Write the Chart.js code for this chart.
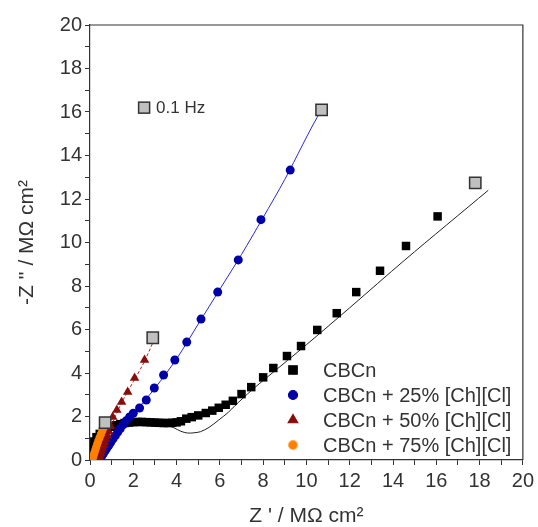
<!DOCTYPE html>
<html>
<head>
<meta charset="utf-8">
<script src="https://cdn.jsdelivr.net/npm/chart.js@4.4.0/dist/chart.umd.min.js"></script>
<style>
  html, body { margin: 0; padding: 0; background: #fff; }
  #wrap { width: 538px; height: 527px; }
</style>
</head>
<body>
<div id="wrap"><canvas id="nyquist"></canvas></div>
<script>
// Datos (Z' y -Z'' en MOhm cm2)
const cbcnRe = [0.05, 0.1, 0.2, 0.3, 0.45, 0.6, 0.8, 1.0, 1.2, 1.4, 1.6, 1.8, 2.0, 2.2, 2.4, 2.6, 2.8, 3.0, 3.2, 3.4, 3.6, 3.8, 4.0, 4.2, 4.45, 4.7, 5.0, 5.35, 5.65, 5.95, 6.27, 6.6, 7.0, 7.45, 8.0, 8.47, 9.1, 9.75, 10.5, 11.4, 12.3, 13.4, 14.6, 16.06];
const cbcnIm = [0.3, 0.6, 0.85, 1.05, 1.2, 1.33, 1.45, 1.53, 1.6, 1.65, 1.7, 1.72, 1.74, 1.75, 1.75, 1.74, 1.73, 1.72, 1.71, 1.7, 1.7, 1.71, 1.73, 1.78, 1.9, 1.97, 2.05, 2.16, 2.27, 2.4, 2.54, 2.72, 3.03, 3.35, 3.8, 4.23, 4.78, 5.24, 5.98, 6.75, 7.72, 8.7, 9.84, 11.2];
const cbcnFitRe = [0.0, 0.05, 0.15, 0.3, 0.5, 0.8, 1.2, 1.6, 2.0, 2.5, 3.0, 3.5, 3.9, 4.2, 4.5, 4.8, 5.1, 5.5, 5.95, 6.4, 6.7, 7.46, 8.24, 10, 12, 14.55, 18.4];
const cbcnFitIm = [0.0, 0.4, 0.75, 1.0, 1.2, 1.4, 1.55, 1.65, 1.7, 1.72, 1.7, 1.62, 1.47, 1.32, 1.24, 1.25, 1.3, 1.5, 1.84, 2.2, 2.5, 3.2, 3.85, 5.3, 7.0, 9.2, 12.4];

const ch25Re = [0.45, 0.5, 0.55, 0.62, 0.7, 0.78, 0.87, 0.96, 1.06, 1.17, 1.28, 1.4, 1.53, 1.67, 1.83, 2.0, 2.29, 2.6, 2.97, 3.4, 3.92, 4.47, 5.13, 5.9, 6.85, 7.9, 9.25];
const ch25Im = [0.0, 0.1, 0.2, 0.3, 0.42, 0.55, 0.68, 0.82, 0.97, 1.12, 1.28, 1.45, 1.62, 1.8, 1.98, 2.15, 2.39, 2.76, 3.31, 3.91, 4.6, 5.42, 6.48, 7.72, 9.2, 11.05, 13.33];
const ch25FitRe = [0.4, 1.0, 2.0, 3.0, 4.0, 5.0, 6.0, 7.0, 8.0, 9.0, 10.7, 11.0];
const ch25FitIm = [0.0, 0.85, 2.1, 3.3, 4.65, 6.25, 7.85, 9.45, 11.15, 12.9, 16.1, 16.14];

const ch50Re = [0.4, 0.43, 0.46, 0.5, 0.54, 0.58, 0.63, 0.68, 0.74, 0.8, 0.87, 0.95, 1.05, 1.24, 1.46, 1.74, 2.06, 2.52];
const ch50Im = [0.0, 0.1, 0.2, 0.3, 0.42, 0.55, 0.68, 0.82, 0.97, 1.12, 1.3, 1.55, 1.98, 2.3, 2.67, 3.13, 3.77, 4.6];
const ch50FitRe = [0.38, 0.6, 0.8, 1.0, 1.3, 1.6, 2.0, 2.5, 2.95];
const ch50FitIm = [0.0, 0.6, 1.1, 1.6, 2.3, 2.9, 3.6, 4.5, 5.5];

const ch75Re = [0.1, 0.13, 0.16, 0.2, 0.24, 0.28, 0.33, 0.38, 0.44, 0.5, 0.56, 0.62];
const ch75Im = [0.0, 0.1, 0.2, 0.32, 0.45, 0.58, 0.72, 0.87, 1.02, 1.17, 1.32, 1.47];
const ch75FitRe = [0.08, 0.2, 0.35, 0.5, 0.7];
const ch75FitIm = [0.0, 0.33, 0.8, 1.22, 1.72];

// Puntos a 0.1 Hz
const hzRe = [17.8, 10.7, 2.9, 0.7];
const hzIm = [12.74, 16.1, 5.62, 1.72];

const seriesLabels = ['CBCn', 'CBCn + 25% [Ch][Cl]', 'CBCn + 50% [Ch][Cl]', 'CBCn + 75% [Ch][Cl]'];
const xTickLabels = ['0', '2', '4', '6', '8', '10', '12', '14', '16', '18', '20'];
const yTickLabels = ['0', '2', '4', '6', '8', '10', '12', '14', '16', '18', '20'];

const colors = {
    cbcn: '#000000',
    ch25: '#0000a8',
    ch50: '#8b0a0a',
    ch75: '#ff8000',
    hz: '#c0c0c0',
    text: '#333333'
};

const toPoints = (xs, ys) => xs.map((x, i) => ({ x: x, y: ys[i] }));

const FONT = '"Liberation Sans", Arial, sans-serif';

// Borde superior y derecho + leyenda + nota 0.1 Hz
const framePlugin = {
    id: 'frame',
    afterDraw(chart) {
        const { ctx, chartArea: a, scales } = chart;
        ctx.save();
        ctx.strokeStyle = colors.text;
        ctx.lineWidth = 1.2;
        ctx.beginPath();
        ctx.moveTo(a.left, a.top);
        ctx.lineTo(a.right, a.top);
        ctx.lineTo(a.right, a.bottom);
        ctx.stroke();

        // leyenda
        const items = [
            { style: 'rect', r: 6, fill: colors.cbcn, stroke: colors.cbcn },
            { style: 'circle', r: 4.5, fill: colors.ch25, stroke: colors.ch25 },
            { style: 'triangle', r: 5.5, fill: colors.ch50, stroke: colors.ch50 },
            { style: 'circle', r: 4.5, fill: colors.ch75, stroke: '#ffb060' }
        ];
        ctx.font = '20px ' + FONT;
        ctx.textBaseline = 'middle';
        items.forEach((it, i) => {
            const y = a.bottom - 90 + i * 25;
            const x = a.left + 203;
            ctx.fillStyle = it.fill;
            ctx.strokeStyle = it.stroke;
            Chart.helpers.drawPoint(ctx, { pointStyle: it.style, radius: it.r, rotation: 0, borderWidth: 1 }, x, y);
            ctx.fillStyle = colors.text;
            ctx.fillText(seriesLabels[i], a.left + 233, y + 1);
        });

        // nota 0.1 Hz
        const hx = scales.x.getPixelForValue(2.5);
        const hy = scales.y.getPixelForValue(16.2);
        ctx.fillStyle = colors.hz;
        ctx.strokeStyle = '#333';
        ctx.lineWidth = 1.5;
        ctx.fillRect(hx - 5.5, hy - 5.5, 11, 11);
        ctx.strokeRect(hx - 5.5, hy - 5.5, 11, 11);
        ctx.fillStyle = colors.text;
        ctx.font = '17px ' + FONT;
        ctx.fillText('0.1 Hz', hx + 12, hy + 1);
        ctx.restore();
    }
};

const ctx = document.getElementById('nyquist');

new Chart(ctx, {
    type: 'scatter',
    data: {
        datasets: [
            {
                label: 'CBCn fit',
                data: toPoints(cbcnFitRe, cbcnFitIm),
                showLine: true,
                borderColor: '#222',
                borderWidth: 1,
                pointRadius: 0,
                tension: 0.3,
                order: 10
            },
            {
                label: seriesLabels[0],
                data: toPoints(cbcnRe, cbcnIm),
                pointStyle: 'rect',
                pointRadius: 6,
                backgroundColor: colors.cbcn,
                borderColor: colors.cbcn,
                borderWidth: 0,
                order: 9
            },
            {
                label: '25% fit',
                data: toPoints(ch25FitRe, ch25FitIm),
                showLine: true,
                borderColor: '#2a2ad0',
                borderWidth: 1,
                pointRadius: 0,
                tension: 0.3,
                order: 8
            },
            {
                label: seriesLabels[1],
                data: toPoints(ch25Re, ch25Im),
                pointStyle: 'circle',
                pointRadius: 4.5,
                backgroundColor: colors.ch25,
                borderColor: colors.ch25,
                borderWidth: 0,
                order: 7
            },
            {
                label: '50% fit',
                data: toPoints(ch50FitRe, ch50FitIm),
                showLine: true,
                borderColor: '#b02020',
                borderWidth: 1,
                borderDash: [3, 2],
                pointRadius: 0,
                tension: 0.3,
                order: 6
            },
            {
                label: seriesLabels[2],
                data: toPoints(ch50Re, ch50Im),
                pointStyle: 'triangle',
                pointRadius: 5.5,
                backgroundColor: colors.ch50,
                borderColor: colors.ch50,
                borderWidth: 0,
                order: 5
            },
            {
                label: '75% fit',
                data: toPoints(ch75FitRe, ch75FitIm),
                showLine: true,
                borderColor: '#ff8000',
                borderWidth: 1,
                pointRadius: 0,
                order: 4
            },
            {
                label: seriesLabels[3],
                data: toPoints(ch75Re, ch75Im),
                pointStyle: 'circle',
                pointRadius: 4,
                backgroundColor: colors.ch75,
                borderColor: colors.ch75,
                borderWidth: 0,
                order: 3
            },
            {
                label: '0.1 Hz',
                data: toPoints(hzRe, hzIm),
                pointStyle: 'rect',
                pointRadius: 8,
                backgroundColor: colors.hz,
                borderColor: '#333',
                borderWidth: 1.5,
                order: 1
            }
        ]
    },
    options: {
        responsive: true,
        maintainAspectRatio: false,
        animation: false,
        layout: {
            padding: { left: 0, right: 11, top: 25, bottom: 0 }
        },
        plugins: {
            legend: { display: false },
            tooltip: { enabled: false }
        },
        scales: {
            x: {
                type: 'linear',
                min: 0,
                max: 20,
                afterFit: (scale) => { scale.height = 67; },
                border: { display: true, color: colors.text, width: 1.2 },
                grid: { drawOnChartArea: false, drawTicks: true, tickLength: 5, color: colors.text },
                ticks: {
                    stepSize: 1,
                    autoSkip: false,
                    maxRotation: 0,
                    padding: 4,
                    color: colors.text,
                    font: { family: FONT, size: 20 },
                    callback: function(value) {
                        return value % 2 === 0 ? xTickLabels[value / 2] : '';
                    }
                },
                title: {
                    display: true,
                    text: "Z ' / MΩ cm²",
                    color: colors.text,
                    font: { family: FONT, size: 21, lineHeight: 1 },
                    padding: { top: 0, bottom: 0 }
                }
            },
            y: {
                type: 'linear',
                min: 0,
                max: 20,
                afterFit: (scale) => { scale.width = 90; },
                border: { display: true, color: colors.text, width: 1.2 },
                grid: { drawOnChartArea: false, drawTicks: true, tickLength: 5, color: colors.text },
                ticks: {
                    stepSize: 1,
                    autoSkip: false,
                    padding: 3,
                    color: colors.text,
                    font: { family: FONT, size: 20 },
                    callback: function(value) {
                        return value % 2 === 0 ? yTickLabels[value / 2] : '';
                    }
                },
                title: {
                    display: true,
                    text: "-Z '' / MΩ cm²",
                    color: colors.text,
                    font: { family: FONT, size: 21, lineHeight: 1 },
                    padding: { top: 17, bottom: 0 }
                }
            }
        }
    },
    plugins: [framePlugin]
});
</script>
</body>
</html>
